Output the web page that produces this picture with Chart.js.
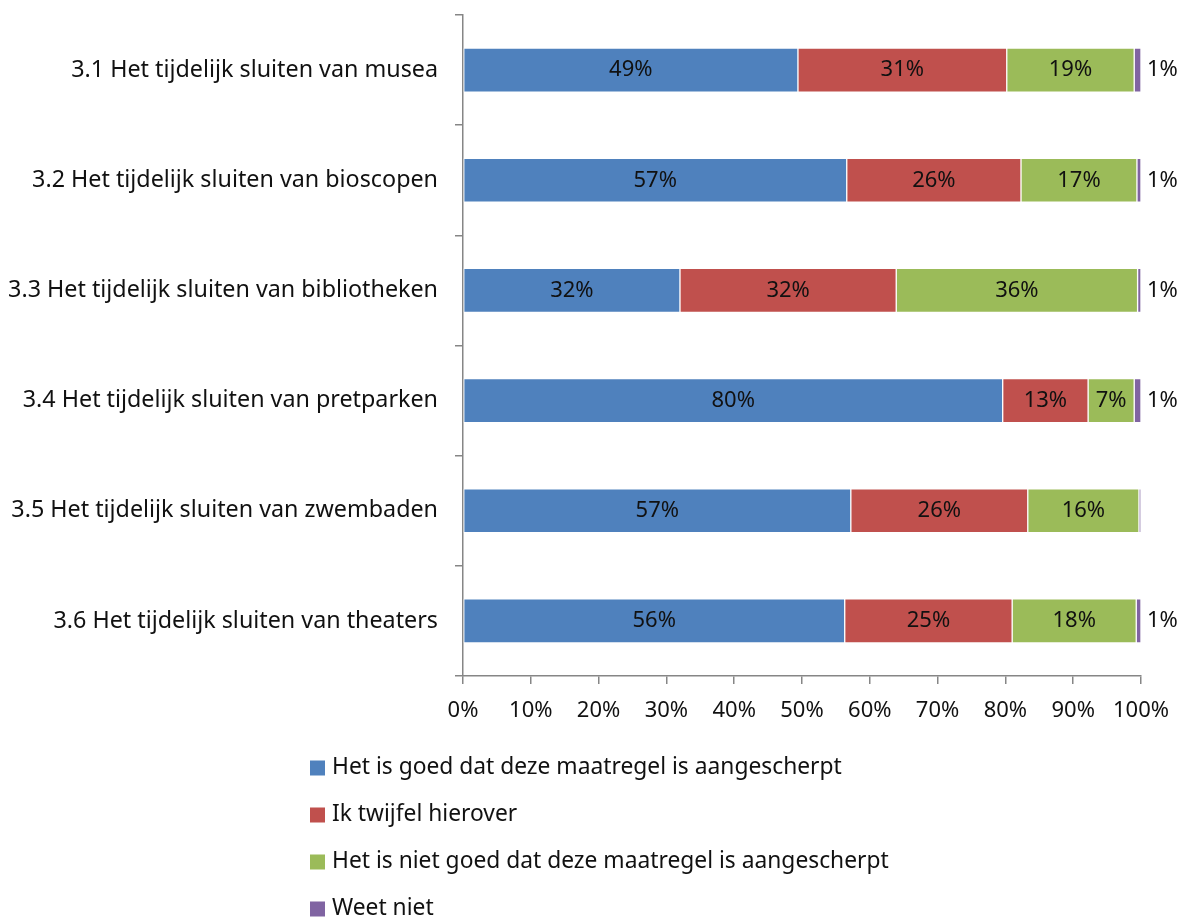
<!DOCTYPE html>
<html lang="nl">
<head>
  <meta charset="UTF-8">
  <title>Maatregelen</title>
  <script src="https://cdn.jsdelivr.net/npm/chart.js"></script>
  <style>
    body { margin: 0; background: #fff; }
  </style>
</head>
<body>
  <canvas id="chart" width="1189" height="920"></canvas>

  <script>
    const categories = [
      '3.1 Het tijdelijk sluiten van musea',
      '3.2 Het tijdelijk sluiten van bioscopen',
      '3.3 Het tijdelijk sluiten van bibliotheken',
      '3.4 Het tijdelijk sluiten van pretparken',
      '3.5 Het tijdelijk sluiten van zwembaden',
      '3.6 Het tijdelijk sluiten van theaters'
    ];
    const seriesNames = [
      'Het is goed dat deze maatregel is aangescherpt',
      'Ik twijfel hierover',
      'Het is niet goed dat deze maatregel is aangescherpt',
      'Weet niet'
    ];
    // percentages
    const goed = [49.4, 56.6, 32.0, 79.6, 57.2, 56.3];
    const twijfel = [30.8, 25.7, 31.9, 12.6, 26.1, 24.7];
    const nietGoed = [18.8, 17.1, 35.6, 6.8, 16.4, 18.3];
    const weetNiet = [1.0, 0.6, 0.5, 1.0, 0.3, 0.7];
    const xTicks = [0, 10, 20, 30, 40, 50, 60, 70, 80, 90, 100];

    const colors = ['#4F81BD', '#C0504D', '#9BBB59', '#8064A2'];
    const FONT = '"Noto Sans", sans-serif';

    const allValues = [goed, twijfel, nietGoed, weetNiet];
    const datasets = allValues.map((vals, i) => ({
      label: seriesNames[i],
      data: vals,
      backgroundColor: colors[i],
      borderColor: 'rgba(255,255,255,0.5)',
      borderWidth: 1,
      borderSkipped: false,
      barThickness: 44
    }));

    // value labels: in the bar centre, last series just right of the bar
    const valueLabels = {
      id: 'valueLabels',
      afterDatasetsDraw(chart) {
        const ctx = chart.ctx;
        ctx.save();
        ctx.font = '22px ' + FONT;
        ctx.fillStyle = '#111';
        ctx.textBaseline = 'middle';
        chart.data.datasets.forEach((ds, di) => {
          const meta = chart.getDatasetMeta(di);
          meta.data.forEach((bar, i) => {
            const v = Math.round(ds.data[i]);
            if (v < 1) return;
            const txt = v + '%';
            if (di === chart.data.datasets.length - 1) {
              ctx.textAlign = 'left';
              ctx.fillText(txt, bar.x + 6, bar.y);
            } else {
              ctx.textAlign = 'center';
              ctx.fillText(txt, (bar.x + bar.base) / 2, bar.y);
            }
          });
        });
        ctx.restore();
      }
    };

    // legend, one item per line under the axis
    const stackedLegend = {
      id: 'stackedLegend',
      afterDraw(chart) {
        const ctx = chart.ctx;
        ctx.save();
        ctx.font = '22.8px ' + FONT;
        ctx.textBaseline = 'middle';
        ctx.textAlign = 'left';
        chart.data.datasets.forEach((ds, i) => {
          const y = 768 + i * 47;
          ctx.fillStyle = ds.backgroundColor;
          ctx.fillRect(310, y - 7.5, 15, 15);
          ctx.fillStyle = '#111';
          ctx.fillText(ds.label, 332, y);
        });
        ctx.restore();
      }
    };

    new Chart(document.getElementById('chart').getContext('2d'), {
      type: 'bar',
      data: { labels: categories, datasets },
      options: {
        indexAxis: 'y',
        responsive: false,
        animation: false,
        layout: { padding: { top: 15, right: 48, left: 0, bottom: 0 } },
        plugins: {
          legend: { display: false },
          tooltip: { enabled: false }
        },
        scales: {
          x: {
            stacked: true,
            min: 0,
            max: 100,
            afterBuildTicks: (s) => { s.ticks = xTicks.map(v => ({ value: v })); },
            afterFit: (s) => { s.height = 244; },
            grid: { drawOnChartArea: false, tickLength: 8, color: '#868686', lineWidth: 1.5 },
            border: { color: '#868686', width: 1.5 },
            ticks: {
              callback: v => v + '%',
              font: { family: FONT, size: 22 },
              color: '#111',
              padding: 14,
              maxRotation: 0
            }
          },
          y: {
            stacked: true,
            afterFit: (s) => { s.width = 463; s.paddingTop = 0; s.paddingBottom = 0; },
            grid: { drawOnChartArea: false, offset: true, tickLength: 8, color: '#868686', lineWidth: 1.5 },
            border: { color: '#868686', width: 1.5 },
            ticks: {
              font: { family: FONT, size: 23.3 },
              color: '#111',
              padding: 17
            }
          }
        }
      },
      plugins: [valueLabels, stackedLegend]
    });
  </script>
</body>
</html>
